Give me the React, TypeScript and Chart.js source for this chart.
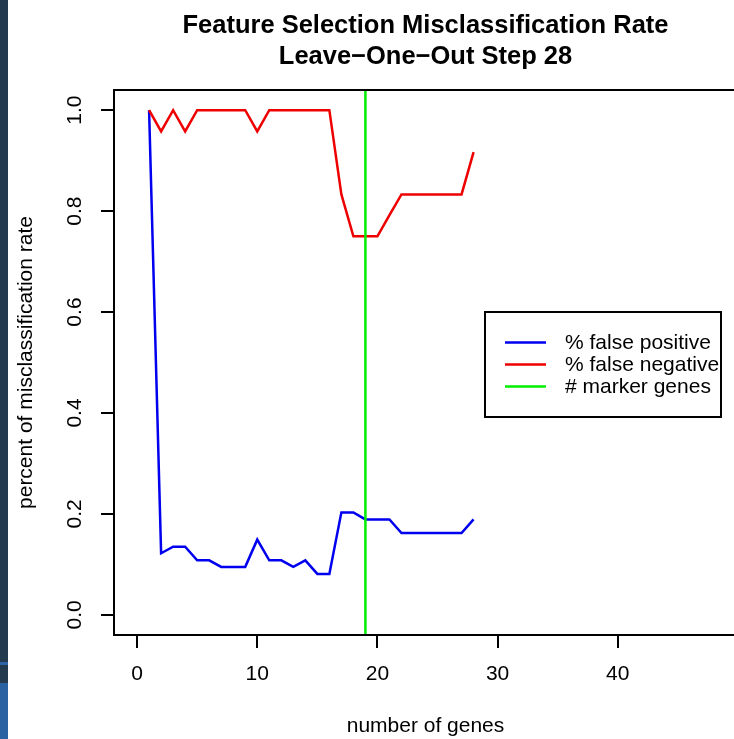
import React, { useEffect, useRef } from "react";
import { Chart, registerables } from "chart.js";

Chart.register(...registerables);

const FONT = '"Liberation Sans", Arial, Helvetica, sans-serif';

const titleLines = ["Feature Selection Misclassification Rate", "Leave\u2212One\u2212Out Step 28"];
const xTitle = "number of genes";
const yTitle = "percent of misclassification rate";

const genes = [1, 2, 3, 4, 5, 6, 7, 8, 9, 10, 11, 12, 13, 14, 15, 16, 17, 18, 19, 20, 21, 22, 23, 24, 25, 26, 27, 28];
const falsePositive = [
  1.0, 0.122, 0.135, 0.135, 0.108, 0.108, 0.095, 0.095, 0.095, 0.149, 0.108, 0.108, 0.095, 0.108,
  0.081, 0.081, 0.203, 0.203, 0.189, 0.189, 0.189, 0.162, 0.162, 0.162, 0.162, 0.162, 0.162, 0.189,
];
const falseNegative = [
  1.0, 0.958, 1.0, 0.958, 1.0, 1.0, 1.0, 1.0, 1.0, 0.958, 1.0, 1.0, 1.0, 1.0,
  1.0, 1.0, 0.833, 0.75, 0.75, 0.75, 0.792, 0.833, 0.833, 0.833, 0.833, 0.833, 0.833, 0.917,
];
const markerGenes = 19;

const seriesLabels = ["% false positive", "% false negative", "# marker genes"];
const seriesColors = ["#0000ee", "#ee0000", "#00ee00"];

const xTicks = [0, 10, 20, 30, 40];
const yTicks = [0, 0.2, 0.4, 0.6, 0.8, 1.0];
const yTickLabels = ["0.0", "0.2", "0.4", "0.6", "0.8", "1.0"];

const X_MIN = -1.92;
const X_MAX = 49.92;
const Y_MIN = -0.04;
const Y_MAX = 1.04;

const boxPlugin = {
  id: "rbox",
  afterDraw(chart: any) {
    const { ctx, chartArea } = chart;
    const { left, top, right, bottom } = chartArea;
    ctx.save();
    // full plot box
    ctx.strokeStyle = "#000";
    ctx.lineWidth = 2;
    ctx.strokeRect(left, top, right - left, bottom - top);

    // y tick labels (rotated, like R's las=0)
    const ys = chart.scales.y;
    ctx.fillStyle = "#000";
    ctx.font = `21px ${FONT}`;
    ctx.textAlign = "center";
    ctx.textBaseline = "middle";
    ys.ticks.forEach((t: any) => {
      const py = ys.getPixelForValue(t.value);
      ctx.save();
      ctx.translate(75, py);
      ctx.rotate(-Math.PI / 2);
      ctx.fillText(yTickLabels[yTicks.indexOf(t.value)] ?? String(t.value), 0, 0);
      ctx.restore();
    });

    // legend box
    const ds = chart.data.datasets;
    const rowH = 22;
    const boxW = 236;
    const boxH = 105;
    const bx = right - 16 - boxW;
    const cy = (top + bottom) / 2 + 2;
    const by = cy - boxH / 2;
    ctx.fillStyle = "#fff";
    ctx.fillRect(bx, by, boxW, boxH);
    ctx.strokeStyle = "#000";
    ctx.lineWidth = 2;
    ctx.strokeRect(bx, by, boxW, boxH);
    ctx.font = `21px ${FONT}`;
    ctx.textAlign = "left";
    ctx.textBaseline = "middle";
    ds.forEach((d: any, i: number) => {
      const ry = cy + (i - 1) * rowH;
      ctx.strokeStyle = d.borderColor;
      ctx.lineWidth = 2.5;
      ctx.beginPath();
      ctx.moveTo(bx + 20, ry);
      ctx.lineTo(bx + 61, ry);
      ctx.stroke();
      ctx.fillStyle = "#000";
      ctx.fillText(d.label, bx + 80, ry + 1);
    });
    ctx.restore();
  },
};

export default function App() {
  const ref = useRef<HTMLCanvasElement | null>(null);

  useEffect(() => {
    if (!ref.current) return;
    const gridOpts = {
      drawOnChartArea: false,
      drawTicks: true,
      tickLength: 13,
      color: "#000",
      lineWidth: 2,
    };
    const chart = new Chart(ref.current, {
      type: "line",
      data: {
        datasets: [
          {
            label: seriesLabels[0],
            data: genes.map((g, i) => ({ x: g, y: falsePositive[i] })),
            borderColor: seriesColors[0],
            borderWidth: 2.5,
            pointRadius: 0,
            tension: 0,
            order: 2,
          },
          {
            label: seriesLabels[1],
            data: genes.map((g, i) => ({ x: g, y: falseNegative[i] })),
            borderColor: seriesColors[1],
            borderWidth: 2.5,
            pointRadius: 0,
            tension: 0,
            order: 1,
          },
          {
            label: seriesLabels[2],
            data: [
              { x: markerGenes, y: Y_MIN },
              { x: markerGenes, y: Y_MAX },
            ],
            borderColor: seriesColors[2],
            borderWidth: 2.5,
            pointRadius: 0,
            order: 0,
          },
        ],
      },
      options: {
        animation: false,
        responsive: false,
        events: [],
        layout: { padding: { top: 0, left: 0, right: 3, bottom: 0 } },
        plugins: {
          legend: { display: false },
          tooltip: { enabled: false },
          title: {
            display: true,
            text: titleLines,
            fullSize: false,
            color: "#000",
            font: { family: FONT, size: 25.5, weight: "bold", lineHeight: 31 / 25.5 },
            padding: { top: 10, bottom: 18 },
          },
        },
        scales: {
          x: {
            type: "linear",
            min: X_MIN,
            max: X_MAX,
            afterBuildTicks: (s: any) => {
              s.ticks = xTicks.map((v) => ({ value: v }));
            },
            afterFit: (s: any) => {
              s.height = 104;
            },
            grid: gridOpts,
            border: { display: true, color: "#000", width: 2 },
            ticks: {
              padding: 14,
              color: "#000",
              font: { family: FONT, size: 21 },
              maxRotation: 0,
              autoSkip: false,
            },
            title: {
              display: true,
              text: xTitle,
              color: "#000",
              font: { family: FONT, size: 21 },
              padding: { top: 0, bottom: 0 },
            },
          },
          y: {
            type: "linear",
            min: Y_MIN,
            max: Y_MAX,
            afterBuildTicks: (s: any) => {
              s.ticks = yTicks.map((v) => ({ value: v }));
            },
            afterFit: (s: any) => {
              s.width = 114;
            },
            grid: gridOpts,
            border: { display: true, color: "#000", width: 2 },
            ticks: { display: false },
            title: {
              display: true,
              text: yTitle,
              color: "#000",
              font: { family: FONT, size: 21 },
              padding: { top: 14, bottom: 0 },
            },
          },
        },
      },
      plugins: [boxPlugin],
    } as any);
    return () => chart.destroy();
  }, []);

  return (
    <div style={{ position: "fixed", left: 0, top: 0, width: 734, height: 739, overflow: "hidden", background: "#fff" }}>
      <canvas ref={ref} width={740} height={739} style={{ display: "block" }} />
      <div style={{ position: "absolute", left: 0, top: 0, width: 8, height: 662, background: "#243a4f" }} />
      <div style={{ position: "absolute", left: 0, top: 662, width: 8, height: 3, background: "#2d64a6" }} />
      <div style={{ position: "absolute", left: 0, top: 665, width: 8, height: 18, background: "#243a4f" }} />
      <div style={{ position: "absolute", left: 0, top: 683, width: 8, height: 56, background: "#2a62a2" }} />
    </div>
  );
}
